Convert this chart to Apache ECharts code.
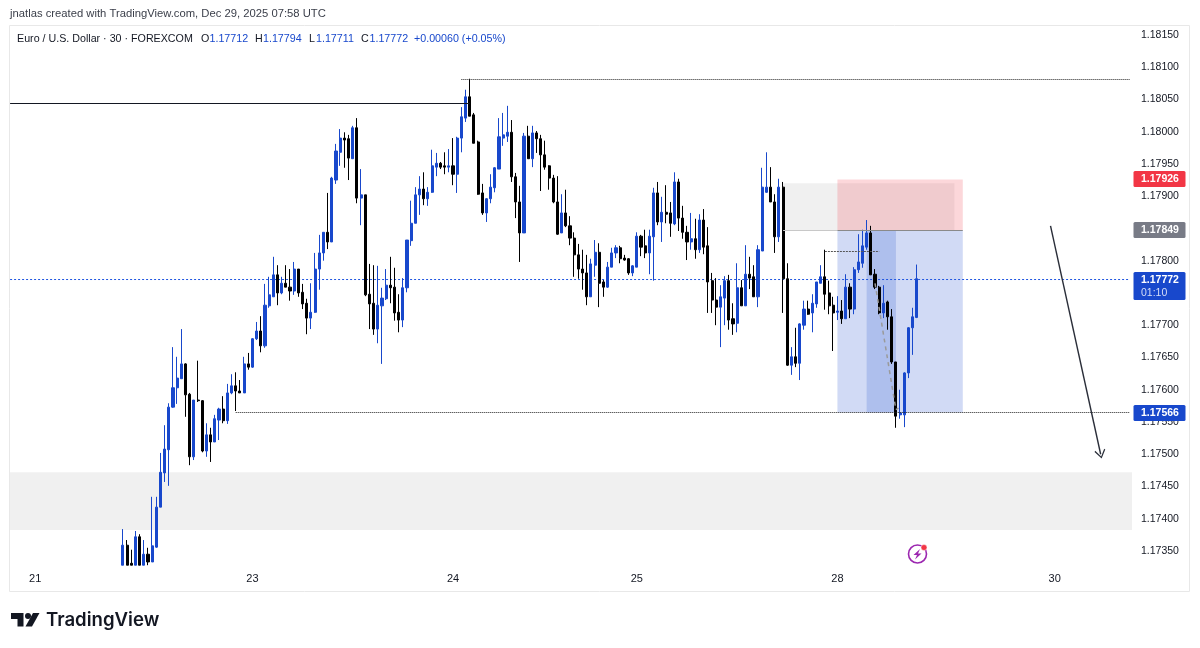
<!DOCTYPE html>
<html>
<head>
<meta charset="utf-8">
<title>EURUSD 30</title>
<script src="https://cdn.jsdelivr.net/npm/echarts@6/dist/echarts.min.js"></script>
<style>
	html, body { margin: 0; padding: 0; background: #fff; }
	#chart { width: 1200px; height: 648px; }
</style>
</head>
<body>
<div id="chart"></div>
<script>
// 30 minute bars
var opens = [
	1.17328,1.17359,1.17331,1.17328,1.17372,1.17328,1.17345,1.17333,1.17356,1.17418,
	1.17471,1.17507,1.17573,1.17603,1.17617,1.17640,1.17593,1.17496,1.17584,1.17583,
	1.17505,1.17530,1.17519,1.17553,1.17570,1.17552,1.17595,1.17606,1.17598,1.17595,
	1.17640,1.17635,1.17679,1.17691,1.17668,1.17730,1.17744,1.17778,1.17750,1.17765,
	1.17759,1.17753,1.17787,1.17751,1.17734,1.17711,1.17720,1.17787,1.17812,1.17844,
	1.17829,1.17925,1.17968,1.17990,1.17989,1.17958,1.18006,1.17897,1.17902,1.17748,
	1.17734,1.17694,1.17730,1.17741,1.17762,1.17759,1.17720,1.17708,1.17758,1.17831,
	1.17858,1.17902,1.17911,1.17896,1.17906,1.17945,1.17951,1.17947,1.17945,1.17947,
	1.17934,1.17990,1.18021,1.18054,1.18026,1.17984,1.17905,1.17874,1.17896,1.17913,
	1.17942,1.17990,1.17993,1.17999,1.17930,1.17891,1.17843,1.17993,1.17958,1.17998,
	1.17989,1.17964,1.17947,1.17928,1.17891,1.17843,1.17874,1.17854,1.17835,1.17809,
	1.17787,1.17781,1.17744,1.17793,1.17813,1.17767,1.17759,1.17790,1.17812,1.17820,
	1.17804,1.17803,1.17781,1.17790,1.17838,1.17823,1.17812,1.17837,1.17905,1.17860,
	1.17875,1.17874,1.17857,1.17922,1.17866,1.17844,1.17829,1.17834,1.17817,1.17863,
	1.17823,1.17769,1.17739,1.17728,1.17742,1.17769,1.17710,1.17703,1.17758,1.17730,
	1.17779,1.17775,1.17744,1.17815,1.17906,1.17914,1.17891,1.17837,1.17914,1.17772,
	1.17638,1.17651,1.17641,1.17700,1.17725,1.17719,1.17733,1.17765,1.17775,1.17750,
	1.17731,1.17720,1.17722,1.17710,1.17759,1.17725,1.17786,1.17796,1.17821,1.17843,
	1.17779,1.17759,1.17719,1.17736,1.17713,1.17643,1.17561,1.17561,1.17626,1.17696,1.17712
];
var closes = [
	1.17359,1.17328,1.17328,1.17372,1.17328,1.17345,1.17333,1.17358,1.17418,1.17472,
	1.17508,1.17573,1.17603,1.17618,1.17640,1.17592,1.17496,1.17584,1.17583,1.17505,
	1.17530,1.17519,1.17555,1.17570,1.17552,1.17595,1.17606,1.17598,1.17595,1.17640,
	1.17635,1.17679,1.17691,1.17668,1.17731,1.17747,1.17778,1.17750,1.17765,1.17759,
	1.17753,1.17787,1.17750,1.17733,1.17711,1.17720,1.17787,1.17812,1.17844,1.17829,
	1.17928,1.17970,1.17990,1.17987,1.17959,1.18006,1.17897,1.17902,1.17747,1.17733,
	1.17694,1.17731,1.17742,1.17762,1.17758,1.17719,1.17708,1.17758,1.17832,1.17858,
	1.17902,1.17911,1.17896,1.17906,1.17947,1.17951,1.17945,1.17945,1.17947,1.17934,
	1.17990,1.18023,1.18054,1.18024,1.17982,1.17903,1.17874,1.17896,1.17914,1.17944,
	1.17992,1.17995,1.17999,1.17930,1.17891,1.17843,1.17993,1.17958,1.17998,1.17989,
	1.17964,1.17945,1.17928,1.17891,1.17841,1.17874,1.17854,1.17835,1.17809,1.17787,
	1.17781,1.17744,1.17795,1.17813,1.17765,1.17759,1.17790,1.17812,1.17820,1.17803,
	1.17801,1.17781,1.17792,1.17838,1.17821,1.17812,1.17838,1.17905,1.17860,1.17875,
	1.17872,1.17858,1.17922,1.17866,1.17844,1.17829,1.17834,1.17817,1.17863,1.17821,
	1.17767,1.17739,1.17728,1.17744,1.17769,1.17708,1.17702,1.17758,1.17730,1.17779,
	1.17773,1.17744,1.17817,1.17914,1.17914,1.17891,1.17837,1.17914,1.17772,1.17638,
	1.17651,1.17641,1.17702,1.17725,1.17717,1.17734,1.17767,1.17775,1.17748,1.17730,
	1.17719,1.17722,1.17710,1.17759,1.17725,1.17786,1.17798,1.17823,1.17843,1.17778,
	1.17759,1.17719,1.17734,1.17713,1.17643,1.17559,1.17564,1.17626,1.17696,1.17713,1.17772
];
var lows = [
	1.17328,1.17328,1.17328,1.17328,1.17328,1.17328,1.17328,1.17333,1.17355,1.17418,
	1.17457,1.17451,1.17572,1.17578,1.17617,1.17558,1.17483,1.17491,1.17581,1.17503,
	1.17496,1.17488,1.17519,1.17522,1.17548,1.17547,1.17593,1.17567,1.17595,1.17595,
	1.17631,1.17634,1.17677,1.17658,1.17665,1.17727,1.17744,1.17731,1.17748,1.17759,
	1.17738,1.17747,1.17744,1.17725,1.17686,1.17694,1.17719,1.17755,1.17800,1.17818,
	1.17829,1.17919,1.17947,1.17944,1.17925,1.17958,1.17889,1.17855,1.17745,1.17694,
	1.17685,1.17672,1.17640,1.17739,1.17734,1.17707,1.17689,1.17697,1.17751,1.17823,
	1.17858,1.17871,1.17886,1.17885,1.17905,1.17931,1.17942,1.17934,1.17937,1.17917,
	1.17905,1.17968,1.18015,1.18024,1.17982,1.17902,1.17871,1.17860,1.17889,1.17906,
	1.17942,1.17978,1.17984,1.17922,1.17866,1.17798,1.17843,1.17958,1.17945,1.17967,
	1.17908,1.17941,1.17910,1.17889,1.17840,1.17843,1.17852,1.17824,1.17775,1.17772,
	1.17755,1.17731,1.17744,1.17775,1.17728,1.17744,1.17758,1.17790,1.17804,1.17796,
	1.17800,1.17778,1.17776,1.17790,1.17807,1.17804,1.17779,1.17769,1.17855,1.17829,
	1.17858,1.17837,1.17855,1.17846,1.17834,1.17801,1.17817,1.17803,1.17812,1.17810,
	1.17719,1.17719,1.17700,1.17666,1.17700,1.17693,1.17685,1.17689,1.17730,1.17730,
	1.17756,1.17744,1.17728,1.17815,1.17905,1.17891,1.17812,1.17829,1.17719,1.17637,
	1.17623,1.17635,1.17615,1.17693,1.17716,1.17689,1.17727,1.17765,1.17724,1.17717,
	1.17660,1.17708,1.17702,1.17710,1.17711,1.17717,1.17781,1.17789,1.17817,1.17778,
	1.17756,1.17717,1.17711,1.17693,1.17640,1.17541,1.17555,1.17542,1.17618,1.17654,1.17711
];
var highs = [
	1.17384,1.17367,1.17352,1.17381,1.17376,1.17367,1.17355,1.17434,1.17434,1.17502,
	1.17545,1.17579,1.17666,1.17651,1.17694,1.17641,1.17595,1.17584,1.17645,1.17584,
	1.17548,1.17541,1.17561,1.17572,1.17590,1.17609,1.17624,1.17627,1.17615,1.17651,
	1.17657,1.17680,1.17705,1.17714,1.17764,1.17775,1.17806,1.17793,1.17775,1.17793,
	1.17787,1.17798,1.17787,1.17764,1.17741,1.17765,1.17812,1.17840,1.17844,1.17905,
	1.17930,1.17981,1.18004,1.17999,1.17995,1.18009,1.18021,1.17942,1.17902,1.17795,
	1.17793,1.17792,1.17758,1.17787,1.17806,1.17789,1.17748,1.17773,1.17832,1.17893,
	1.17914,1.17931,1.17937,1.17914,1.17972,1.17967,1.17953,1.17968,1.17973,1.17990,
	1.17992,1.18038,1.18065,1.18082,1.18029,1.17986,1.17919,1.17897,1.17934,1.17945,
	1.18021,1.18029,1.18040,1.18018,1.17936,1.17916,1.17998,1.18009,1.18009,1.18001,
	1.17995,1.17986,1.17948,1.17933,1.17931,1.17903,1.17910,1.17869,1.17844,1.17826,
	1.17817,1.17809,1.17803,1.17832,1.17827,1.17770,1.17798,1.17820,1.17824,1.17823,
	1.17809,1.17804,1.17793,1.17844,1.17840,1.17848,1.17848,1.17913,1.17922,1.17899,
	1.17917,1.17891,1.17937,1.17927,1.17885,1.17854,1.17874,1.17865,1.17872,1.17880,
	1.17852,1.17781,1.17773,1.17762,1.17776,1.17778,1.17734,1.17796,1.17770,1.17824,
	1.17806,1.17793,1.17824,1.17944,1.17968,1.17945,1.17903,1.17927,1.17922,1.17796,
	1.17666,1.17696,1.17703,1.17738,1.17738,1.17748,1.17767,1.17793,1.17817,1.17769,
	1.17744,1.17745,1.17739,1.17779,1.17765,1.17790,1.17841,1.17848,1.17863,1.17854,
	1.17787,1.17761,1.17762,1.17738,1.17725,1.17643,1.17600,1.17627,1.17697,1.17727,1.17794
];

var slotCount = 269;
var firstBar = 27;
var dayLabels = ['21', '23', '24', '25', '28', '30'];
var daySlots = [6, 58, 106, 150, 198, 250];
var priceTicks = [1.1735,1.174,1.1745,1.175,1.1755,1.176,1.1765,1.177,1.1775,1.178,1.1785,1.179,1.1795,1.18,1.1805,1.181,1.1815];

// prices printed on the axis tags
var lastPrice = 1.17772, stopPrice = 1.17926, entryPrice = 1.17849, targetPrice = 1.17566;
// drawn levels and boxes
var lastLine = 1.177708, entryLine = 1.17847, targetLine = 1.175645;
var grayZone = [1.173826, 1.17472];
var blackLevel = 1.180436, topLevel = 1.18081, rangeLevel = 1.17815, boxTop = 1.17920;
var arrowFrom = [249, 1.17854], arrowTo = [261, 1.17500];
var swingPath = [[207, 1.17765], [212, 1.17569], [213, 1.17573]];
var ohlcTexts = ['O', '1.17712', 'H', '1.17794', 'L', '1.17711', 'C', '1.17772', '+0.00060 (+0.05%)'];
var ohlcX = [201, 209.5, 255, 263, 309, 316, 361, 369.5, 414];

var BLUE = '#1848cc', INK = '#131722', FONT = 'Liberation Sans, Arial, sans-serif';

var categories = [];
for (var s = 0; s < slotCount; s++) {
	var at = daySlots.indexOf(s);
	categories.push(at < 0 ? '' : dayLabels[at]);
}
var bars = opens.map(function(o, i) {
	return [firstBar + i, o, closes[i], lows[i], highs[i]];
});

function seg(a, b, style, extra) {
	var first = { coord: a, lineStyle: style };
	var last = { coord: b };
	if (extra) { last.symbol = extra.symbol; last.symbolSize = extra.symbolSize; }
	return [first, last];
}
function box(x1, x2, y1, y2, color) {
	return [{ coord: [x1, y1], itemStyle: { color: color } }, { coord: [x2, y2] }];
}

var chart = echarts.init(document.getElementById('chart'), null, { renderer: 'canvas' });
var option = {
	animation: false,
	backgroundColor: '#fff',
	textStyle: { fontFamily: FONT },
	grid: { left: 8, top: 25, width: 1124, height: 542, containLabel: false },
	xAxis: {
		type: 'category',
		data: categories,
		boundaryGap: true,
		axisLine: { show: false },
		axisTick: { show: false },
		splitLine: { show: false },
		axisLabel: { interval: 0, hideOverlap: false, color: INK, fontSize: 11, fontFamily: FONT, margin: 6 }
	},
	yAxis: {
		type: 'value',
		position: 'right',
		min: 1.173252,
		max: 1.181653,
		axisLine: { show: false },
		axisTick: { show: false },
		splitLine: { show: false },
		axisLabel: {
			customValues: priceTicks,
			color: INK,
			fontSize: 10.5,
			fontFamily: FONT,
			margin: 9,
			padding: [2, 0, 0, 0],
			formatter: function(v) { return v.toFixed(5); }
		}
	},
	series: [
		{
			// last price line
			type: 'line',
			z: 1,
			silent: true,
			symbol: 'none',
			data: [[0, lastLine], [268, lastLine]],
			lineStyle: { color: '#1f55e0', type: [2, 2], width: 1 }
		},
		{
			// boxes and lines sit under the candles
			type: 'line',
			z: 1,
			silent: true,
			data: [],
			markArea: {
				silent: true,
				data: [
					[{ yAxis: grayZone[0], itemStyle: { color: '#f0f0f0' } }, { yAxis: grayZone[1] }],
					box(185, 226, entryLine, boxTop, 'rgba(200,200,200,0.28)'),
					box(198, 228, entryLine, stopPrice, 'rgba(242,54,69,0.2)'),
					box(198, 228, targetLine, entryLine, 'rgba(24,72,204,0.2)'),
					box(205, 212, targetLine, entryLine, 'rgba(24,72,204,0.19)')
				]
			},
			markLine: {
				silent: true,
				animation: false,
				symbol: ['none', 'none'],
				label: { show: false },
				data: [
					seg([0, blackLevel], [110, blackLevel], { color: '#131722', type: 'solid', width: 1 }),
					seg([108, topLevel], [268, topLevel], { color: '#222', type: [1, 1], width: 1 }),
					seg([54, targetLine], [268, targetLine], { color: '#222', type: [1, 1], width: 1 }),
					seg([195, rangeLevel], [208, rangeLevel], { color: '#555', type: [2, 1], width: 1 }),
					seg([185, entryLine], [198, entryLine], { color: '#c8c8c8', type: 'solid', width: 1 }),
					seg([198, entryLine], [228, entryLine], { color: '#8a8a8a', type: 'solid', width: 1 }),
					seg(swingPath[0], swingPath[1], { color: '#9a9a9a', type: [4, 4], width: 1.5 }),
					seg(swingPath[1], swingPath[2], { color: '#9a9a9a', type: [3, 2], width: 1.5 }),
					seg(arrowFrom, arrowTo, { color: '#2a2e39', type: 'solid', width: 1.4 }, {
						symbol: 'path://M0,0 L6,9 L5,10 L0,2.5 L-5,10 L-6,9 Z',
						symbolSize: [11, 9]
					})
				]
			}
		},
		{
			type: 'candlestick',
			z: 2,
			silent: true,
			barWidth: 2.6,
			clip: false,
			data: bars,
			encode: { x: 0, y: [1, 2, 3, 4] },
			itemStyle: { color: BLUE, color0: '#000', borderColor: BLUE, borderColor0: '#000', borderWidth: 1 }
		}
	]
};
chart.setOption(option);

// price tags follow the axis scale
function tag(linePrice, bg, text, color) {
	var y = Math.round(chart.convertToPixel({ yAxisIndex: 0 }, linePrice));
	return [
		{ type: 'rect', z: 50, shape: { x: 1133.5, y: y - 8, width: 52, height: 16, r: 1.5 }, style: { fill: bg } },
		{ type: 'text', z: 51, style: { x: 1141, y: y, text: text, fill: color, font: 'bold 10.5px ' + FONT, verticalAlign: 'middle' } }
	];
}
var lastY = Math.round(chart.convertToPixel({ yAxisIndex: 0 }, lastLine));

var gfx = [
	// left strip and frame around the plot
	{ type: 'rect', z: 40, shape: { x: 0, y: 20, width: 9, height: 575 }, style: { fill: '#fff' } },
	{ type: 'rect', z: 41, shape: { x: 9.5, y: 25.5, width: 1180, height: 566 }, style: { fill: 'transparent', stroke: '#e8e8e8', lineWidth: 1 } },
	{ type: 'text', z: 60, style: { x: 10, y: 14, text: 'jnatlas created with TradingView.com, Dec 29, 2025 07:58 UTC', fill: '#3a3e49', font: '11.25px ' + FONT, verticalAlign: 'middle' } },
	{ type: 'text', z: 60, style: { x: 17, y: 39, text: 'Euro / U.S. Dollar · 30 · FOREXCOM', fill: INK, font: '10.7px ' + FONT, verticalAlign: 'middle' } }
];
ohlcTexts.forEach(function(t, i) {
	var isValue = i % 2 === 1 || i === 8;
	gfx.push({ type: 'text', z: 60, style: { x: ohlcX[i], y: 39, text: t, fill: isValue ? BLUE : INK, font: '10.7px ' + FONT, verticalAlign: 'middle' } });
});
gfx = gfx.concat(
	tag(targetLine, BLUE, targetPrice.toFixed(5), '#fff'),
	tag(stopPrice, '#f23645', stopPrice.toFixed(5), '#fff'),
	tag(entryLine, '#787b86', entryPrice.toFixed(5), '#fff'),
	[
		{ type: 'rect', z: 50, shape: { x: 1133.5, y: lastY - 8, width: 52, height: 28, r: 1.5 }, style: { fill: BLUE } },
		{ type: 'text', z: 51, style: { x: 1141, y: lastY, text: lastPrice.toFixed(5), fill: '#fff', font: 'bold 10.5px ' + FONT, verticalAlign: 'middle' } },
		{ type: 'text', z: 51, style: { x: 1141, y: lastY + 13, text: '01:10', fill: '#d5def7', font: '10.5px ' + FONT, verticalAlign: 'middle' } },
		// bolt badge
		{ type: 'circle', z: 60, shape: { cx: 917.5, cy: 554, r: 9 }, style: { fill: 'transparent', stroke: '#9c27b0', lineWidth: 1.6 } },
		{ type: 'polygon', z: 60, shape: { points: [[920, 549], [913.5, 555], [917, 555], [915, 559.5], [921.5, 553.5], [918, 553.5]] }, style: { fill: '#9c27b0' } },
		{ type: 'circle', z: 61, shape: { cx: 924, cy: 547.5, r: 3 }, style: { fill: '#f23645', stroke: '#fff', lineWidth: 0.5 } },
		// TradingView mark
		{ type: 'polygon', z: 60, shape: { points: [[11, 613], [23.5, 613], [23.5, 626.5], [17.5, 626.5], [17.5, 619], [11, 619]] }, style: { fill: '#131722' } },
		{ type: 'circle', z: 60, shape: { cx: 28, cy: 616, r: 3 }, style: { fill: '#131722' } },
		{ type: 'polygon', z: 60, shape: { points: [[33, 613], [39.5, 613], [32, 626.5], [25.5, 626.5]] }, style: { fill: '#131722' } },
		{ type: 'text', z: 60, style: { x: 46, y: 620, text: 'TradingView', fill: '#131722', font: '600 18.6px Inter, ' + FONT, verticalAlign: 'middle' } }
	]
);
chart.setOption({ graphic: { elements: gfx } });
</script>
</body>
</html>
